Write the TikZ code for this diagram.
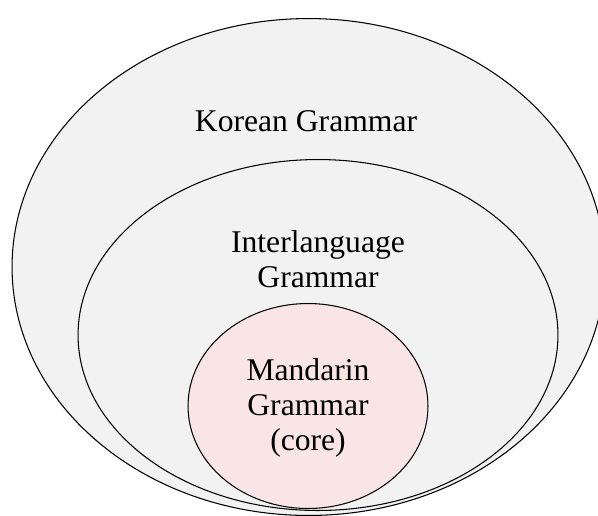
\documentclass[tikz,border=0pt]{standalone}
\usepackage{fontspec}
\setmainfont{Liberation Serif}
\usepackage{tikz}
\usetikzlibrary{positioning,shapes.geometric}

\definecolor{greyfill}{HTML}{F2F2F2}
\definecolor{pinkfill}{HTML}{F9E5E6}

\begin{document}
\begin{tikzpicture}[x=0.02cm, y=-0.02cm,
	grammar/.style={draw, ellipse, line width=0.6pt, inner sep=0pt},
	gramtext/.style={align=center, font=\rmfamily\fontsize{18}{20}\selectfont}]
			\useasboundingbox (0,0) rectangle (598,515);
			\node[grammar, fill=greyfill, minimum width=11.86cm, minimum height=9.94cm] (korean) at (308.5, 267) {};
			\node[grammar, fill=greyfill, minimum width=9.6cm, minimum height=7.02cm] (inter) at (318, 335) {};
			\node[grammar, fill=pinkfill, minimum width=4.8cm, minimum height=4.1cm] (mandarin) at (308, 406) {};
			\node[gramtext] (koreantext) at (306, 121) {Korean Grammar};
			\node[gramtext] (intertext) at (318, 259) {Interlanguage\\Grammar};
			\node[gramtext] (mandarintext) at (308, 408) {Mandarin\\Grammar\\(core)};
\end{tikzpicture}
\end{document}
